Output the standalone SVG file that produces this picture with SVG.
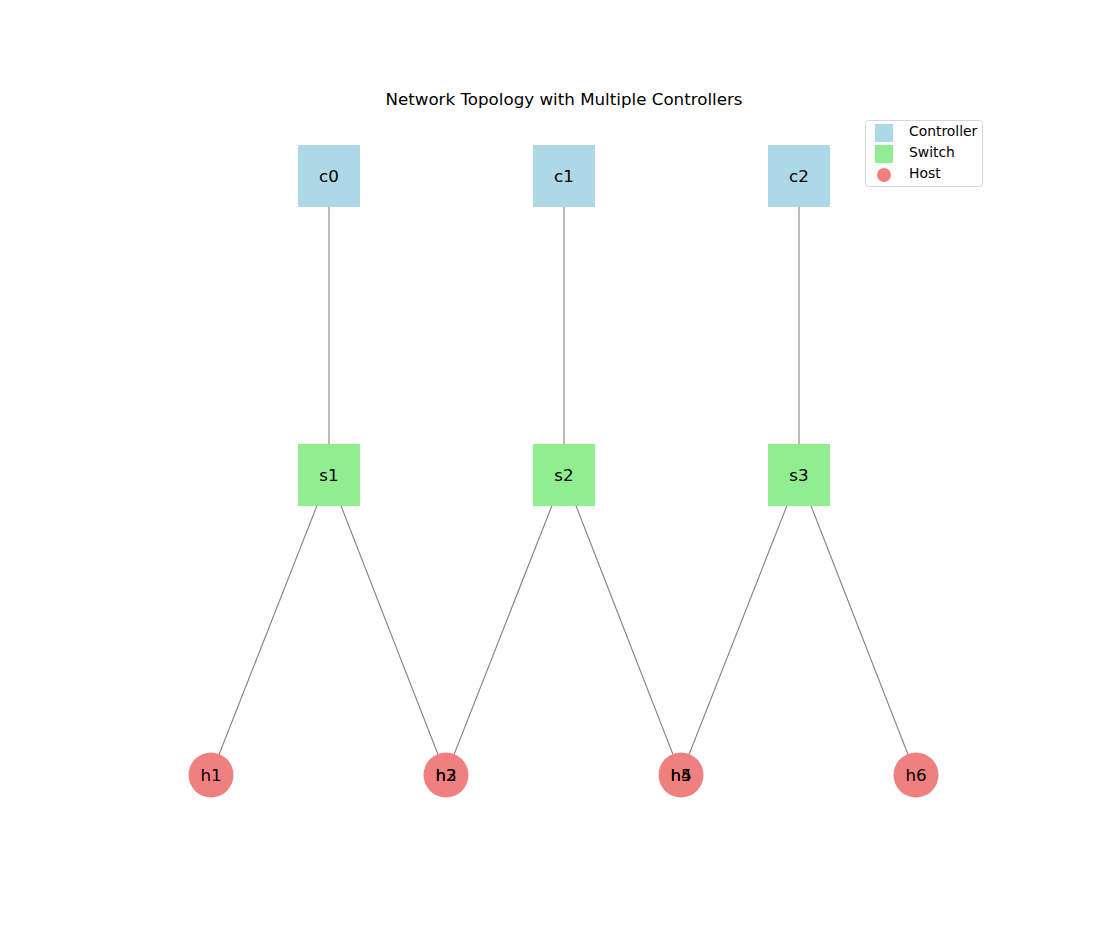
<svg xmlns="http://www.w3.org/2000/svg" width="1100" height="941" viewBox="0 0 1100 941">
<style>
.ctl{fill:#add8e6}
.sw{fill:#90ee90}
.host{fill:#f08080}
.ghost{fill:none}
.lbl{font-family:"DejaVu Sans",sans-serif;font-size:16.7px;fill:#000;text-anchor:middle;dominant-baseline:central}
.edge{stroke:#808080;stroke-width:1.1;fill:none}
.leg{font-family:"DejaVu Sans",sans-serif;font-size:13.9px;fill:#000}
</style>
<rect width="1100" height="941" fill="#fff"/>
<text x="564" y="105" font-family="DejaVu Sans, sans-serif" font-size="16.7" text-anchor="middle">Network Topology with Multiple Controllers</text>
<g id="connectors">
<line class="edge" x1="329" y1="176" x2="329" y2="475"/>
<line class="edge" x1="564" y1="176" x2="564" y2="475"/>
<line class="edge" x1="799" y1="176" x2="799" y2="475"/>
<line class="edge" x1="329" y1="475" x2="211" y2="775"/>
<line class="edge" x1="329" y1="475" x2="446" y2="775"/>
<line class="edge" x1="564" y1="475" x2="446" y2="775"/>
<line class="edge" x1="564" y1="475" x2="681" y2="775"/>
<line class="edge" x1="799" y1="475" x2="681" y2="775"/>
<line class="edge" x1="799" y1="475" x2="916" y2="775"/>
</g>
<g id="c0"><rect class="ctl" x="298" y="145" width="62" height="62"/><text class="lbl" x="329" y="176">c0</text></g>
<g id="c1"><rect class="ctl" x="533" y="145" width="62" height="62"/><text class="lbl" x="564" y="176">c1</text></g>
<g id="c2"><rect class="ctl" x="768" y="145" width="62" height="62"/><text class="lbl" x="799" y="176">c2</text></g>
<g id="s1"><rect class="sw" x="298" y="444" width="62" height="62"/><text class="lbl" x="329" y="475">s1</text></g>
<g id="s2"><rect class="sw" x="533" y="444" width="62" height="62"/><text class="lbl" x="564" y="475">s2</text></g>
<g id="s3"><rect class="sw" x="768" y="444" width="62" height="62"/><text class="lbl" x="799" y="475">s3</text></g>
<g id="h1"><circle class="host" cx="211" cy="775" r="22.5"/><text class="lbl" x="211" y="775">h1</text></g>
<g id="h2"><circle class="host" cx="446" cy="775" r="22.5"/><text class="lbl" x="446" y="775">h2</text></g>
<g id="h3"><circle class="ghost" cx="446" cy="775" r="22.5"/><text class="lbl" x="446" y="775">h3</text></g>
<g id="h4"><circle class="host" cx="681" cy="775" r="22.5"/><text class="lbl" x="681" y="775">h4</text></g>
<g id="h5"><circle class="ghost" cx="681" cy="775" r="22.5"/><text class="lbl" x="681" y="775">h5</text></g>
<g id="h6"><circle class="host" cx="916" cy="775" r="22.5"/><text class="lbl" x="916" y="775">h6</text></g>
<g id="legend">
<rect x="865.5" y="120.5" width="117" height="66" rx="3" fill="#fff" fill-opacity="0.8" stroke="#d6d6d6"/>
<rect class="ctl" x="875" y="124" width="18" height="18"/>
<rect class="sw" x="875" y="145" width="18" height="18"/>
<circle class="host" cx="884" cy="175" r="7"/>
<text class="leg" x="909" y="136">Controller</text>
<text class="leg" x="909" y="157">Switch</text>
<text class="leg" x="909" y="178">Host</text>
</g>
</svg>
